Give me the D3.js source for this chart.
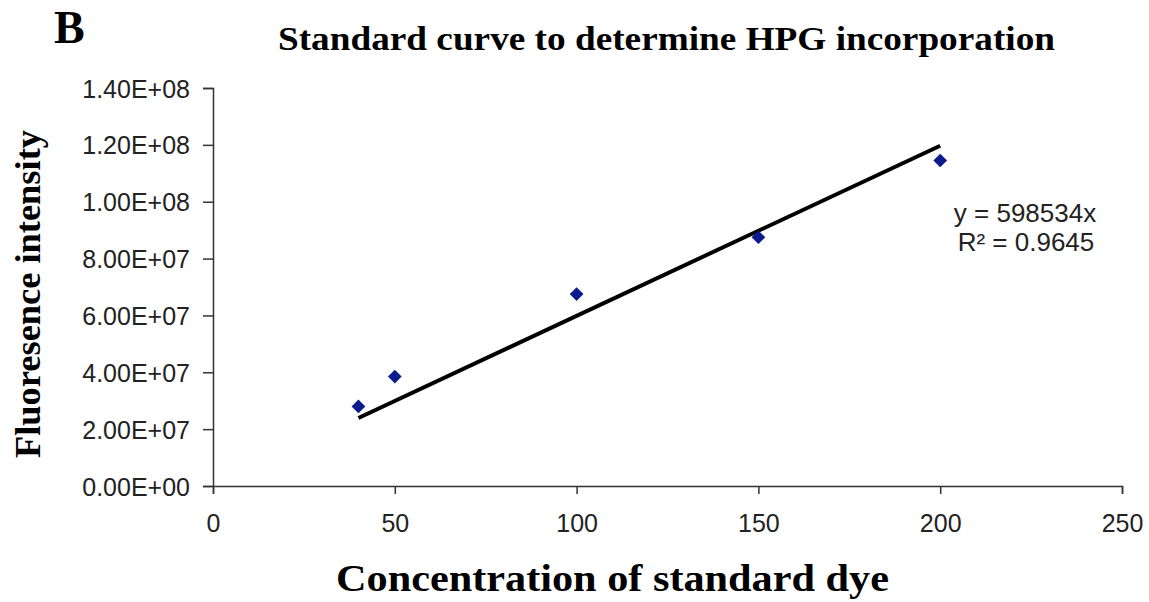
<!DOCTYPE html>
<html lang="en">
<head>
    <meta charset="UTF-8">
    <title>Standard curve to determine HPG incorporation</title>
    <script src="https://d3js.org/d3.v7.min.js"></script>
    <style>
        body { margin: 0; background: #fff; }
        .tick text {
            font-family: "Liberation Sans", Arial, sans-serif;
            font-size: 25px;
            fill: #222;
        }
        .domain, .tick line { stroke: #333; stroke-width: 1.5px; }
        .serif-bold {
            font-family: "Liberation Serif", "Times New Roman", serif;
            font-weight: bold;
            fill: #000;
        }
        .eq {
            font-family: "Liberation Sans", Arial, sans-serif;
            font-size: 26px;
            fill: #222;
        }
    </style>
</head>
<body>
<svg width="1149" height="602"></svg>
<script>
    // data
    const concentrations = [40, 50, 100, 150, 200];
    const intensities = [2.8e7, 3.85e7, 6.75e7, 8.75e7, 1.145e8];
    const slope = 598534;
    const rSquared = "0.9645";
    const xTicks = [0, 50, 100, 150, 200, 250];
    const yTicks = [0, 2e7, 4e7, 6e7, 8e7, 1e8, 1.2e8, 1.4e8];

    const width = 1149;
    const height = 602;
    const margin = { top: 88, right: 27, bottom: 116, left: 213 };

    const svg = d3.select("svg")
        .attr("width", width)
        .attr("height", height);

    const x = d3.scaleLinear().domain([0, 250]).range([margin.left, width - margin.right]);
    const y = d3.scaleLinear().domain([0, 1.4e8]).range([height - margin.bottom, margin.top]);

    // axes
    svg.append("g")
        .attr("transform", `translate(0,${y(0)})`)
        .call(d3.axisBottom(x).tickValues(xTicks).tickSize(8).tickPadding(20).tickFormat(d3.format("d")));

    svg.append("g")
        .attr("transform", `translate(${x(0)},0)`)
        .call(d3.axisLeft(y).tickValues(yTicks).tickSize(10).tickPadding(13)
            .tickFormat(d => d.toExponential(2).toUpperCase().replace(/E([+-])(\d)$/, "E$10$2")))
        .selectAll(".tick text").attr("dy", "0.36em");

    // trend line y = slope * x
    const xr = d3.extent(concentrations);
    svg.append("line")
        .attr("x1", x(xr[0])).attr("y1", y(slope * xr[0]))
        .attr("x2", x(xr[1])).attr("y2", y(slope * xr[1]))
        .attr("stroke", "#000")
        .attr("stroke-width", 4);

    // data points
    svg.append("g")
        .selectAll("path")
        .data(concentrations)
        .enter().append("path")
        .attr("d", d3.symbol(d3.symbolDiamond2, 120))
        .attr("transform", (d, i) => `translate(${x(d)},${y(intensities[i])})`)
        .attr("fill", "#0b1a8c");

    // equation
    svg.append("text").attr("class", "eq")
        .attr("x", 1025).attr("y", 222).attr("text-anchor", "middle")
        .text("y = " + slope + "x");
    svg.append("text").attr("class", "eq")
        .attr("x", 1026).attr("y", 251).attr("text-anchor", "middle")
        .text("R² = " + rSquared);

    // titles
    svg.append("text").attr("class", "serif-bold")
        .attr("x", 54).attr("y", 43)
        .style("font-size", "46px")
        .text("B");

    svg.append("text").attr("class", "serif-bold")
        .attr("x", 278).attr("y", 50)
        .attr("textLength", 777).attr("lengthAdjust", "spacingAndGlyphs")
        .style("font-size", "33px")
        .text("Standard curve to determine HPG incorporation");

    svg.append("text").attr("class", "serif-bold")
        .attr("x", 336).attr("y", 591)
        .attr("textLength", 553).attr("lengthAdjust", "spacingAndGlyphs")
        .style("font-size", "38px")
        .text("Concentration of standard  dye");

    svg.append("text").attr("class", "serif-bold")
        .attr("transform", "translate(40,458) rotate(-90)")
        .attr("textLength", 328).attr("lengthAdjust", "spacingAndGlyphs")
        .style("font-size", "36px")
        .text("Fluoresence intensity");
</script>
</body>
</html>
